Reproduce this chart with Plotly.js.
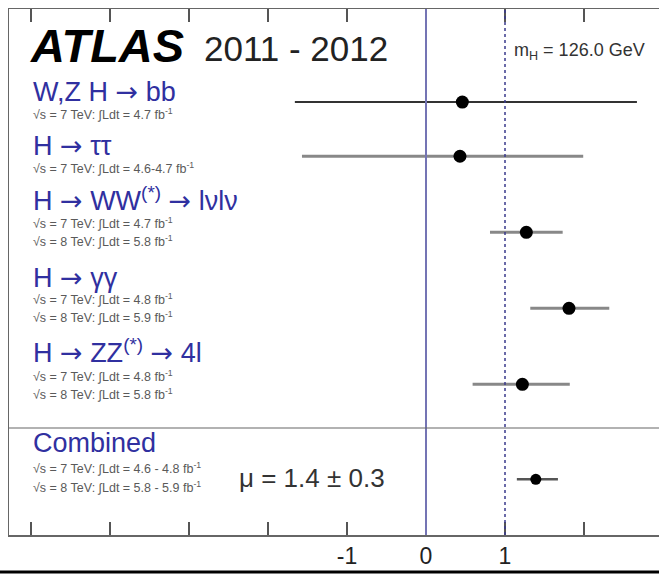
<!DOCTYPE html>
<html>
<head>
<meta charset="utf-8">
<script src="https://cdn.plot.ly/plotly-3.0.1.min.js"></script>
<style>html,body{margin:0;padding:0;background:#fff;}#chart{width:659px;height:574px;}</style>
</head>
<body>
<div id="chart"></div>
<script>
// ---- data ----
var ARROW = '<span style="font-family:DejaVu Sans">→</span>';
var channels = ["W,Z H " + ARROW + " bb", "H " + ARROW + " ττ", "H " + ARROW + " WW<sup>(*)</sup> " + ARROW + " lνlν",
                "H " + ARROW + " γγ", "H " + ARROW + " ZZ<sup>(*)</sup> " + ARROW + " 4l", "Combined"];
var muValues = [0.46, 0.43, 1.27, 1.81, 1.22, 1.39];
var errPlus  = [2.21, 1.56, 0.46, 0.51, 0.60, 0.28];
var errMinus = [2.12, 2.00, 0.46, 0.49, 0.63, 0.24];
var rowPos   = [4.9, 7.75, 11.75, 15.75, 19.75, 24.75];
var lumiLines = [
  ["√s = 7 TeV: ∫Ldt = 4.7 fb<sup>-1</sup>"],
  ["√s = 7 TeV: ∫Ldt = 4.6-4.7 fb<sup>-1</sup>"],
  ["√s = 7 TeV: ∫Ldt = 4.7 fb<sup>-1</sup>", "√s = 8 TeV: ∫Ldt = 5.8 fb<sup>-1</sup>"],
  ["√s = 7 TeV: ∫Ldt = 4.8 fb<sup>-1</sup>", "√s = 8 TeV: ∫Ldt = 5.9 fb<sup>-1</sup>"],
  ["√s = 7 TeV: ∫Ldt = 4.8 fb<sup>-1</sup>", "√s = 8 TeV: ∫Ldt = 5.8 fb<sup>-1</sup>"],
  ["√s = 7 TeV: ∫Ldt = 4.6 - 4.8 fb<sup>-1</sup>", "√s = 8 TeV: ∫Ldt = 5.8 - 5.9 fb<sup>-1</sup>"]
];
var tickVals = [-5, -4, -3, -2, -1, 0, 1, 2];
var tickText = ["", "", "", "", "-1", "0", "1", ""];
var combinedText = "μ = 1.4 ± 0.3";
var massText = "m<sub>H</sub> = 126.0 GeV";

// ---- layout helpers (pixel -> paper) ----
var W = 659, H = 574, L = 9, T = 9, B = 39;
var PW = W - L, PH = H - T - B;
function px(x) { return (x - L) / PW; }
function py(y) { return (H - B - y) / PH; }

var errColors = ["#333", "#888", "#888", "#888", "#888", "#555"];
var errWidth  = [2, 3, 3, 3, 3, 2.5];
var mSizes    = [13, 13, 13, 13, 13, 11];

var traces = channels.map(function (c, i) {
  return {
    type: "scatter", mode: "markers",
    x: [muValues[i]], y: [rowPos[i]],
    marker: {color: "#000", size: mSizes[i]},
    error_x: {type: "data", symmetric: false, array: [errPlus[i]], arrayminus: [errMinus[i]],
              color: errColors[i], thickness: errWidth[i], width: 0},
    hoverinfo: "skip", showlegend: false
  };
});

var FONT = "Liberation Sans, Arial, sans-serif";
var blue = "rgb(48,48,160)";
var annotations = [];
var mainY = [92, 145, 199, 277, 351, 443];
var subY  = [[114], [168], [223, 241], [299, 317], [376, 394], [468, 487]];
channels.forEach(function (c, i) {
  annotations.push({xref: "paper", yref: "paper", x: px(31), y: py(mainY[i]), xanchor: "left", yanchor: "middle",
    text: c, showarrow: false, font: {family: FONT, size: 27, color: blue}});
  lumiLines[i].forEach(function (t, j) {
    annotations.push({xref: "paper", yref: "paper", x: px(31), y: py(subY[i][j]), xanchor: "left", yanchor: "middle",
      text: t, showarrow: false, font: {family: FONT, size: 12.5, color: "#5a5a5a"}});
  });
});
annotations.push({xref: "paper", yref: "paper", x: px(28), y: py(46), xanchor: "left", yanchor: "middle",
  text: "<b><i>ATLAS</i></b>", showarrow: false, font: {family: FONT, size: 47, color: "#000"}});
annotations.push({xref: "paper", yref: "paper", x: px(202), y: py(48), xanchor: "left", yanchor: "middle",
  text: "2011 - 2012", showarrow: false, font: {family: FONT, size: 35, color: "#222"}});
annotations.push({xref: "paper", yref: "paper", x: px(512), y: py(51), xanchor: "left", yanchor: "middle",
  text: massText, showarrow: false, font: {family: FONT, size: 18, color: "#333"}});
annotations.push({xref: "paper", yref: "paper", x: px(237), y: py(478), xanchor: "left", yanchor: "middle",
  text: combinedText, showarrow: false, font: {family: FONT, size: 26, color: "#333"}});

var shapes = [
  {type: "line", xref: "x", yref: "paper", x0: 0, x1: 0, y0: 0, y1: 1, line: {color: "#7474b4", width: 2}},
  {type: "line", xref: "x", yref: "paper", x0: 1, x1: 1, y0: 0, y1: 1, line: {color: "#3a3a8c", width: 1.5, dash: "dot"}},
  {type: "line", xref: "paper", yref: "y", x0: 0, x1: 1, y0: 22.05, y1: 22.05, line: {color: "#666", width: 1.2}},
  {type: "line", xref: "paper", yref: "paper", x0: -0.02, x1: 1.02, y0: py(572), y1: py(572), line: {color: "#000", width: 3}}
];

var layout = {
  width: W, height: H,
  margin: {l: L, r: 0, t: T, b: B, pad: 0},
  paper_bgcolor: "#fff", plot_bgcolor: "#fff",
  xaxis: {range: [(L - 426) / 79, (W - 426) / 79], tickvals: tickVals, ticktext: tickText,
    ticks: "inside", ticklen: 13, tickwidth: 1.2, tickcolor: "#555",
    showline: true, linecolor: "#666", linewidth: 1.5, mirror: "ticks",
    showgrid: false, zeroline: false,
    tickfont: {family: FONT, size: 23, color: "#222"}},
  yaxis: {range: [27.68, 0], showticklabels: false, ticks: "", showgrid: false, zeroline: false,
    showline: true, linecolor: "#666", linewidth: 1.5, mirror: false},
  annotations: annotations,
  shapes: shapes,
  showlegend: false
};

Plotly.newPlot("chart", traces, layout, {staticPlot: true, displayModeBar: false});
</script>
</body>
</html>
